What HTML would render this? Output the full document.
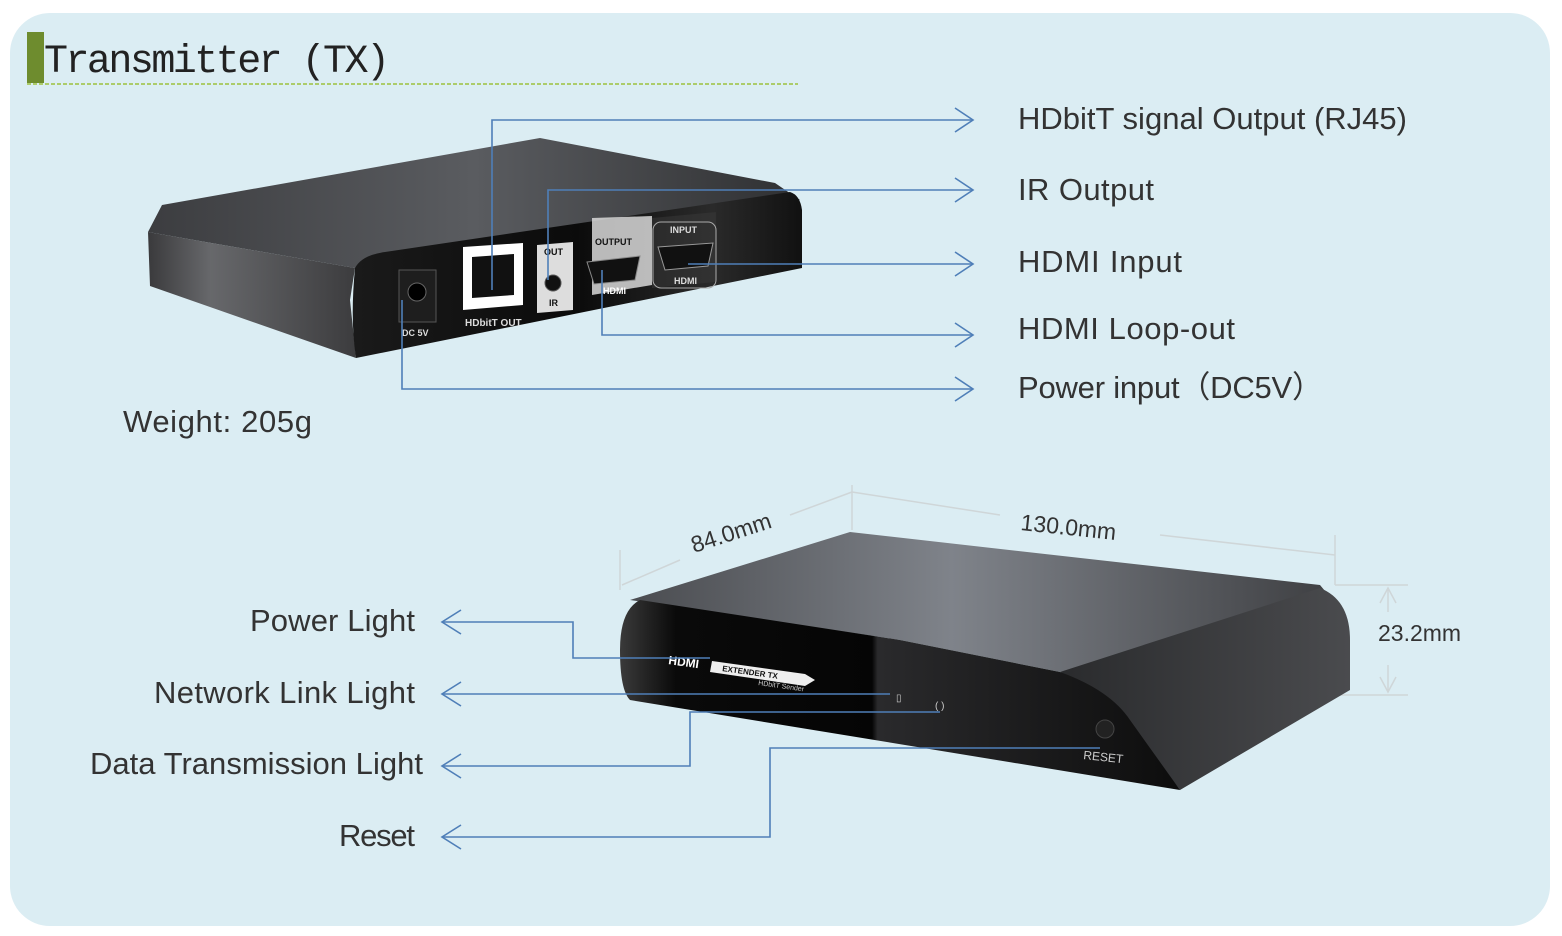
<!DOCTYPE html>
<html><head><meta charset="utf-8"><style>
html,body{margin:0;padding:0;background:#fff;}
svg{display:block;}
text{font-family:"Liberation Sans",sans-serif;fill:#333;}
</style></head><body>
<svg width="1562" height="936" viewBox="0 0 1562 936" xmlns="http://www.w3.org/2000/svg">
<defs>
<linearGradient id="side" x1="0" y1="0" x2="1" y2="0"><stop offset="0" stop-color="#3a3a3c"/><stop offset="0.3" stop-color="#67686b"/><stop offset="1" stop-color="#3c3c3e"/></linearGradient>
<linearGradient id="top" x1="0" y1="0" x2="1" y2="0"><stop offset="0" stop-color="#3c3d40"/><stop offset="0.5" stop-color="#5a5c60"/><stop offset="1" stop-color="#2f3032"/></linearGradient>
<linearGradient id="top2" x1="0" y1="0" x2="1" y2="0"><stop offset="0" stop-color="#4a4c50"/><stop offset="0.45" stop-color="#7f838a"/><stop offset="1" stop-color="#3c3d40"/></linearGradient>
<linearGradient id="back" x1="0" y1="0" x2="1" y2="0"><stop offset="0" stop-color="#1a1a1a"/><stop offset="0.5" stop-color="#0b0b0b"/><stop offset="0.8" stop-color="#2a2a2a"/><stop offset="1" stop-color="#111"/></linearGradient>
<linearGradient id="front" x1="0" y1="0" x2="1" y2="0"><stop offset="0" stop-color="#3a3a3a"/><stop offset="0.1" stop-color="#0a0a0a"/><stop offset="0.45" stop-color="#050505"/><stop offset="0.46" stop-color="#2a2a2c"/><stop offset="1" stop-color="#0d0d0d"/></linearGradient>
<linearGradient id="rside" x1="0" y1="0" x2="1" y2="0"><stop offset="0" stop-color="#2a2b2d"/><stop offset="1" stop-color="#4a4b4e"/></linearGradient>
</defs>
<rect x="10" y="13" width="1540" height="913" rx="40" fill="#dbedf3"/>
<!-- title -->
<rect x="27" y="32" width="17" height="51" fill="#6e8c2e"/>
<text x="44" y="72" style="font-family:'Liberation Mono',monospace;font-size:40px;fill:#222" textLength="346">Transmitter (TX)</text>
<line x1="27" y1="84" x2="798" y2="84" stroke="#9cc23c" stroke-width="1.5" stroke-dasharray="4,2"/>

<!-- back device -->
<polygon points="148,232 162,205 540,138 775,183 800,200 380,258 355,268" fill="url(#top)"/>
<polygon points="148,232 355,268 350,300 356,358 150,286" fill="url(#side)"/>
<path d="M355,268 Q362,255 385,252 L790,192 Q800,195 802,210 L802,268 L356,358 Q350,320 355,268 Z" fill="url(#back)"/>
<polygon points="592,218 652,216 652,285 592,295" fill="#d8d8d8" opacity="0.85"/>
<polygon points="652,218 716,212 716,282 652,288" fill="#3a3a3a" opacity="0.5"/>
<rect x="399" y="270" width="37" height="52" fill="#1e1e1e" stroke="#555"/>
<circle cx="417" cy="292" r="9" fill="#000" stroke="#666"/>
<text x="402" y="336" style="font-size:9px;fill:#ddd;font-weight:bold">DC 5V</text>
<polygon points="463,247 523,243 523,305 463,310" fill="#fff"/>
<polygon points="472,257 514,254 514,295 472,298" fill="#111"/>
<text x="465" y="326" style="font-size:10px;fill:#ddd;font-weight:bold">HDbitT OUT</text>
<polygon points="537,245 573,242 573,310 537,313" fill="#ddd"/>
<circle cx="553" cy="283" r="8" fill="#111" stroke="#555"/>
<text x="544" y="255" style="font-size:9px;fill:#111;font-weight:bold">OUT</text>
<text x="549" y="306" style="font-size:9px;fill:#111;font-weight:bold">IR</text>
<text x="595" y="245" style="font-size:9px;fill:#111;font-weight:bold">OUTPUT</text>
<polygon points="587,262 640,256 635,280 594,284" fill="#111" stroke="#888"/>
<text x="603" y="294" style="font-size:9px;fill:#fff;font-weight:bold">HDMI</text>
<rect x="653" y="222" width="63" height="66" rx="8" fill="none" stroke="#aaa"/>
<text x="670" y="233" style="font-size:9px;fill:#ddd;font-weight:bold">INPUT</text>
<polygon points="658,247 713,243 708,266 665,270" fill="#111" stroke="#999"/>
<text x="674" y="284" style="font-size:9px;fill:#ddd;font-weight:bold">HDMI</text>

<!-- top connectors -->
<g stroke="#4f7fb8" stroke-width="1.6" fill="none">
<polyline points="492,290 492,120 973,120"/>
<polyline points="548,280 548,190 973,190"/>
<polyline points="688,264 973,264"/>
<polyline points="602,270 602,335 973,335"/>
<polyline points="402,300 402,389 973,389"/>
<polyline points="955,108 973,120 955,132"/>
<polyline points="955,178 973,190 955,202"/>
<polyline points="955,252 973,264 955,276"/>
<polyline points="955,323 973,335 955,347"/>
<polyline points="955,377 973,389 955,401"/>
</g>
<g style="font-size:31px">
<text x="1018" y="129" textLength="389">HDbitT signal Output (RJ45)</text>
<text x="1018" y="200" textLength="136">IR Output</text>
<text x="1018" y="272" textLength="164">HDMI Input</text>
<text x="1018" y="339" textLength="217">HDMI Loop-out</text>
<text x="1018" y="398" textLength="305">Power input（DC5V）</text>
<text x="123" y="432" textLength="189">Weight: 205g</text>
</g>

<!-- dimension lines -->
<g stroke="#cfd6d8" stroke-width="1.5" fill="none">
<line x1="852" y1="485" x2="852" y2="530"/>
<line x1="620" y1="550" x2="620" y2="590"/>
<line x1="622" y1="585" x2="680" y2="560"/>
<line x1="790" y1="515" x2="852" y2="492"/>
<line x1="852" y1="492" x2="1000" y2="515"/>
<line x1="1160" y1="535" x2="1335" y2="555"/>
<line x1="1335" y1="535" x2="1335" y2="585"/>
<line x1="1335" y1="585" x2="1408" y2="585"/>
<line x1="1335" y1="695" x2="1408" y2="695"/>
<line x1="1388" y1="590" x2="1388" y2="612"/>
<line x1="1388" y1="665" x2="1388" y2="692"/>
<polyline points="1380,603 1388,588 1396,603"/>
<polyline points="1380,677 1388,692 1396,677"/>
</g>
<text x="694" y="553" transform="rotate(-18 694 553)" style="font-size:23px">84.0mm</text>
<text x="1020" y="530" transform="rotate(6 1020 530)" style="font-size:23px">130.0mm</text>
<text x="1378" y="641" style="font-size:23px">23.2mm</text>

<!-- front device -->
<polygon points="630,600 850,532 1320,585 1345,615 1060,672 900,640" fill="url(#top2)"/>
<path d="M1060,672 L1320,588 Q1350,600 1350,640 L1350,690 L1180,790 L1110,700 Z" fill="url(#rside)"/>
<path d="M640,600 L900,640 L1060,672 Q1110,690 1130,720 L1180,790 L630,700 Q620,690 620,650 Q620,610 640,600 Z" fill="url(#front)"/>
<text x="668" y="664" transform="rotate(8 668 664)" style="font-size:12px;fill:#fff;font-weight:bold">HDMI</text>
<polygon points="712,661 805,674 815,680 805,686 710,672" fill="#eee"/>
<text x="722" y="671" transform="rotate(8 722 671)" style="font-size:8px;fill:#111;font-weight:bold">EXTENDER TX</text>
<text x="758" y="685" transform="rotate(8 758 685)" style="font-size:7px;fill:#ccc">HDbitT Sender</text>
<circle cx="1105" cy="729" r="9" fill="#222" stroke="#444"/>
<text x="1083" y="759" transform="rotate(6 1083 759)" style="font-size:12px;fill:#ccc">RESET</text>
<text x="896" y="701" style="font-size:10px;fill:#ccc">▯</text>
<text x="935" y="709" style="font-size:10px;fill:#ccc">( )</text>

<g stroke="#4f7fb8" stroke-width="1.6" fill="none">
<polyline points="442,622 573,622 573,658 710,658"/>
<polyline points="442,694 890,694"/>
<polyline points="442,766 690,766 690,712 940,712"/>
<polyline points="442,837 770,837 770,748 1100,748"/>
<polyline points="461,610 442,622 461,634"/>
<polyline points="461,682 442,694 461,706"/>
<polyline points="461,754 442,766 461,778"/>
<polyline points="461,825 442,837 461,849"/>
</g>
<g style="font-size:31px">
<text x="250" y="631" textLength="165">Power Light</text>
<text x="154" y="703" textLength="261">Network Link Light</text>
<text x="90" y="774" textLength="333">Data Transmission Light</text>
<text x="339" y="846" textLength="76">Reset</text>
</g>
</svg>
</body></html>
